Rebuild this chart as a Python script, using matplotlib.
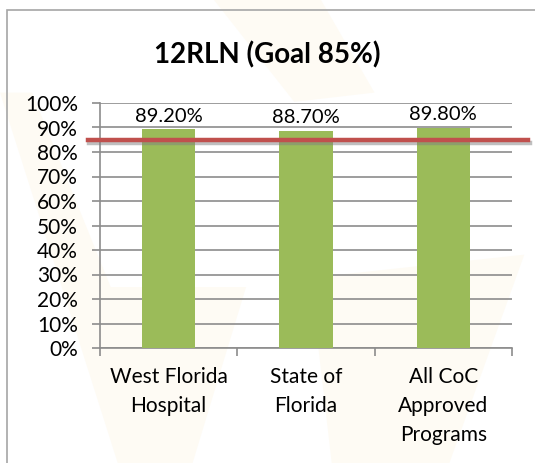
import numpy as np
import matplotlib.pyplot as plt
from matplotlib.patches import Polygon, Rectangle
import matplotlib.patheffects as pe

# data
categories = ['West Florida\nHospital', 'State of\nFlorida', 'All CoC\nApproved\nPrograms']
values = [89.2, 88.7, 89.8]
value_labels = ['89.20%', '88.70%', '89.80%']
goal = 85
yticks = list(range(0, 101, 10))
ytick_labels = ['%d%%' % t for t in yticks]

plt.rcParams['font.family'] = ['Lato', 'DejaVu Sans']

fig = plt.figure(figsize=(5.35, 4.63), dpi=100)
fig.patch.set_facecolor('white')

# faint watermark shapes in the background
cream = '#fefbf4'
for pts in [
    [(0, 0.80), (0.06, 0.80), (0.34, 0.0), (0.22, 0.0)],
    [(0.17, 0.38), (0.46, 0.38), (0.36, 0.0), (0.25, 0.0)],
    [(0.58, 0.40), (0.98, 0.45), (0.84, 0.0), (0.62, 0.0)],
    [(0.40, 1.0), (0.60, 1.0), (0.70, 0.80), (0.55, 0.78)],
]:
    fig.add_artist(Polygon(pts, closed=True, transform=fig.transFigure,
                           facecolor=cream, edgecolor='none', zorder=0))

# chart border
fig.add_artist(Rectangle((7 / 535, -0.01), 1.0, 1 - 10 / 463 + 0.01,
                         transform=fig.transFigure, fill=False,
                         edgecolor='#a6a6a6', linewidth=1.2, zorder=1))

ax = fig.add_axes([100 / 535, 115 / 463, 412 / 535, 245 / 463])
ax.patch.set_alpha(0)

x = np.arange(len(categories))
ax.bar(x, values, width=0.39, color='#9bbb59', zorder=3)
for xi, v, lab in zip(x, values, value_labels):
    ax.text(xi, v + 2.0, lab, ha='center', va='bottom', fontsize=14.5, color='black')

ax.set_xlim(-0.5, len(categories) - 0.5)
ax.set_ylim(0, 100)
ax.set_yticks(yticks)
ax.set_yticklabels(ytick_labels, fontsize=15)
ax.set_xticks(x)
ax.set_xticklabels(categories, fontsize=15, linespacing=1.55)
ax.set_xticks(np.arange(len(categories) + 1) - 0.5, minor=True)
ax.tick_params(axis='x', which='major', length=0, pad=14)
ax.tick_params(axis='x', which='minor', length=6, color='#8c8c8c', width=1.2)
ax.tick_params(axis='y', length=6, color='#8c8c8c', width=1.2, pad=10)

ax.grid(axis='y', color='#8c8c8c', linewidth=1.2, zorder=1)
for s in ['top', 'right']:
    ax.spines[s].set_visible(False)
for s in ['left', 'bottom']:
    ax.spines[s].set_color('#8c8c8c')
    ax.spines[s].set_linewidth(1.2)

# goal line, runs past the plot area
ax.plot([-0.03, 1.04], [goal, goal], transform=ax.get_yaxis_transform(),
        color='#c0504d', linewidth=3.2, clip_on=False, zorder=5,
        path_effects=[pe.SimpleLineShadow(offset=(1, -2), shadow_color='gray', alpha=0.5),
                      pe.Normal()])

fig.text(267 / 535, 1 - 55 / 463, '12RLN (Goal 85%)', ha='center', va='center',
         fontsize=20, fontweight='bold')

fig.savefig('out.png', dpi=100)
